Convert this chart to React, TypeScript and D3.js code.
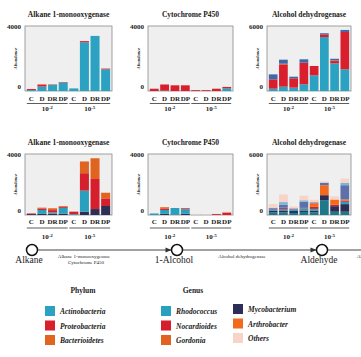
import React from "react";
import * as d3 from "d3";

const categories = ["C", "D", "DR", "DP", "C", "D", "DR", "DP"];
const groupLabels = ["-2", "-5"];

// Phylum series
const phylumKeys = ["Actinobacteria", "Proteobacteria", "Bacterioidetes", "Other phyla"];
const phylumColors = ["#2ba2c1", "#d91f2e", "#e2651f", "#3e68a7"];

const alkPhylumActino = [60, 280, 380, 520, 160, 3000, 3390, 1330];
const alkPhylumProteo = [60, 120, 20, 30, 0, 70, 0, 50];
const alkPhylumBact = [0, 0, 10, 0, 0, 0, 0, 0];
const alkPhylumOther = [0, 0, 0, 0, 0, 0, 0, 0];

const cypPhylumActino = [0, 20, 0, 0, 0, 0, 0, 170];
const cypPhylumProteo = [140, 380, 350, 350, 50, 50, 140, 80];
const cypPhylumBact = [0, 0, 0, 0, 0, 0, 0, 0];
const cypPhylumOther = [0, 0, 0, 0, 0, 0, 0, 0];

const adhPhylumActino = [215, 400, 310, 615, 1450, 4980, 2550, 2000];
const adhPhylumProteo = [860, 2060, 860, 2000, 860, 250, 215, 3450];
const adhPhylumBact = [0, 60, 0, 0, 0, 0, 60, 0];
const adhPhylumOther = [460, 370, 150, 310, 0, 100, 150, 185];

// Genus series
const genusKeys = ["Genus 7", "Mycobacterium", "Rhodococcus", "Nocardioides", "Gordonia", "Arthrobacter", "Genus 8", "Genus 9", "Others"];
const genusColors = ["#1e7a88", "#2c2e55", "#2aa0bf", "#d61f2d", "#e0631f", "#f26a1a", "#5d70a9", "#79b4d9", "#f8d3c8"];

const alkGenus: number[][] = [
  [0, 0, 0, 0, 0, 0, 0, 0],
  [60, 80, 90, 90, 0, 220, 390, 590],
  [0, 250, 80, 380, 50, 1380, 0, 0],
  [40, 100, 150, 80, 170, 1140, 1970, 500],
  [0, 50, 120, 40, 0, 770, 1360, 370],
  [0, 0, 0, 0, 0, 0, 0, 0],
  [0, 0, 0, 0, 0, 0, 0, 0],
  [0, 0, 0, 0, 0, 0, 0, 0],
  [0, 0, 0, 0, 0, 0, 0, 0],
];
const cypGenus: number[][] = [
  [0, 0, 0, 0, 0, 0, 0, 0],
  [0, 80, 30, 80, 0, 0, 0, 0],
  [100, 250, 430, 300, 0, 0, 0, 0],
  [0, 100, 0, 60, 0, 0, 60, 170],
  [0, 80, 0, 0, 0, 0, 0, 0],
  [0, 0, 0, 0, 0, 0, 0, 0],
  [0, 0, 0, 0, 0, 0, 0, 0],
  [0, 0, 0, 0, 0, 0, 0, 0],
  [0, 0, 0, 0, 30, 30, 30, 50],
];
const adhGenus: number[][] = [
  [250, 250, 200, 300, 250, 1460, 320, 320],
  [150, 200, 200, 150, 150, 490, 550, 750],
  [80, 150, 100, 200, 200, 0, 0, 230],
  [40, 120, 30, 50, 200, 0, 160, 120],
  [0, 0, 0, 0, 0, 0, 0, 0],
  [0, 0, 0, 0, 350, 970, 490, 110],
  [150, 300, 120, 600, 100, 260, 0, 1400],
  [50, 250, 0, 150, 0, 0, 0, 230],
  [350, 750, 180, 450, 250, 130, 320, 420],
];

const phylumLegend = ["Actinobacteria", "Proteobacteria", "Bacterioidetes"];
const genusLegend1 = ["Rhodococcus", "Nocardioides", "Gordonia"];
const genusLegend2 = ["Mycobacterium", "Arthrobacter", "Others"];

const FONT = "'Liberation Serif', 'Times New Roman', serif";

type PanelProps = {
  x0: number; x1: number; top: number; bottom: number;
  title: string; yMax: number; keys: string[]; colors: string[];
  series: number[][]; catDy: number; lineDy: number; groupDy: number;
};

function Panel({ x0, x1, top, bottom, title, yMax, keys, colors, series, catDy, lineDy, groupDy }: PanelProps) {
  const x = d3.scaleBand<number>().domain(d3.range(categories.length)).range([x0 + 1, x1 - 1]).paddingInner(0.15).paddingOuter(0.08);
  const y = d3.scaleLinear().domain([0, yMax]).range([bottom, top]);
  const rows = categories.map((_, i) => {
    const r: Record<string, number> = {};
    keys.forEach((k, j) => (r[k] = series[j][i]));
    return r;
  });
  const stacked = d3.stack<Record<string, number>>().keys(keys)(rows);
  const color = d3.scaleOrdinal<string, string>().domain(keys).range(colors);
  const bw = x.bandwidth();
  return (
    <g>
      <text x={(x0 + x1) / 2} y={top - 9} textAnchor="middle" fontFamily={FONT} fontWeight="bold" fontSize={7.5} fill="#222">{title}</text>
      <rect x={x0} y={top} width={x1 - x0} height={bottom - top} fill="#efefef" stroke="#8a8a8a" strokeWidth={0.8} />
      {stacked.map((layer) => (
        <g key={layer.key} fill={color(layer.key)}>
          {layer.map((d, i) => (d[1] - d[0] > 0 ?
            <rect key={i} x={x(i)} y={y(d[1])} width={bw} height={y(d[0]) - y(d[1])} /> : null))}
        </g>
      ))}
      <text x={x0 - 4} y={y(yMax) + 2.5} textAnchor="end" fontFamily={FONT} fontWeight="bold" fontSize={7} fill="#222">{yMax}</text>
      <text x={x0 - 4} y={y(0) - 2.5} textAnchor="end" fontFamily={FONT} fontWeight="bold" fontSize={7} fill="#222">0</text>
      <text transform={`translate(${x0 - 8},${(top + bottom) / 2}) rotate(-90)`} textAnchor="middle" fontFamily={FONT} fontWeight="bold" fontStyle="italic" fontSize={4.5} fill="#222">Abundance</text>
      {categories.map((c, i) => (
        <text key={i} x={(x(i) as number) + bw / 2} y={bottom + catDy} textAnchor="middle" fontFamily={FONT} fontWeight="bold" fontSize={7} fill="#222">{c}</text>
      ))}
      {groupLabels.map((g, gi) => {
        const a = x(gi * 4) as number;
        const b = (x(gi * 4 + 3) as number) + bw;
        return (
          <g key={gi}>
            <line x1={a} x2={b} y1={bottom + lineDy} y2={bottom + lineDy} stroke="#333" strokeWidth={0.8} />
            <text x={(a + b) / 2} y={bottom + groupDy} textAnchor="middle" fontFamily={FONT} fontWeight="bold" fontSize={7} fill="#222">
              10<tspan dy={-2.5} fontSize={5}>{g}</tspan>
            </text>
          </g>
        );
      })}
    </g>
  );
}

const panelsX = [[25, 112], [148, 233], [267, 351]];

export default function App() {
  const row1 = { top: 26, bottom: 91, catDy: 9.5, lineDy: 12.5, groupDy: 20 };
  const row2 = { top: 154, bottom: 215, catDy: 8.5, lineDy: 13, groupDy: 24 };
  const tlY = 250;
  const nodes = [32, 177, 322];
  const nodeLabels = ["Alkane", "1-Alcohol", "Aldehyde"];
  const r = 5.5;
  return (
    <svg width={361} height={357} style={{ position: "absolute", left: 0, top: 0 }}>
      <rect width={361} height={357} fill="#fff" />
      <Panel x0={panelsX[0][0]} x1={panelsX[0][1]} {...row1} title="Alkane 1-monooxygenase" yMax={4000} keys={phylumKeys} colors={phylumColors}
        series={[alkPhylumActino, alkPhylumProteo, alkPhylumBact, alkPhylumOther]} />
      <Panel x0={panelsX[1][0]} x1={panelsX[1][1]} {...row1} title="Cytochrome P450" yMax={4000} keys={phylumKeys} colors={phylumColors}
        series={[cypPhylumActino, cypPhylumProteo, cypPhylumBact, cypPhylumOther]} />
      <Panel x0={panelsX[2][0]} x1={panelsX[2][1]} {...row1} title="Alcohol dehydrogenase" yMax={6000} keys={phylumKeys} colors={phylumColors}
        series={[adhPhylumActino, adhPhylumProteo, adhPhylumBact, adhPhylumOther]} />
      <Panel x0={panelsX[0][0]} x1={panelsX[0][1]} {...row2} title="Alkane 1-monooxygenase" yMax={4000} keys={genusKeys} colors={genusColors} series={alkGenus} />
      <Panel x0={panelsX[1][0]} x1={panelsX[1][1]} {...row2} title="Cytochrome P450" yMax={4000} keys={genusKeys} colors={genusColors} series={cypGenus} />
      <Panel x0={panelsX[2][0]} x1={panelsX[2][1]} {...row2} title="Alcohol dehydrogenase" yMax={6000} keys={genusKeys} colors={genusColors} series={adhGenus} />

      {/* pathway timeline */}
      <line x1={nodes[0] + r} x2={361} y1={tlY} y2={tlY} stroke="#444" strokeWidth={1} />
      {nodes.slice(1).map((n, i) => (
        <path key={i} d={`M${n - r - 6},${tlY - 2.5} L${n - r},${tlY} L${n - r - 6},${tlY + 2.5} Z`} fill="#333" />
      ))}
      {nodes.map((n, i) => (
        <g key={i}>
          <circle cx={n} cy={tlY} r={r} fill="#fff" stroke="#111" strokeWidth={1.5} />
          <text x={n - 3} y={tlY + 13} textAnchor="middle" fontFamily={FONT} fontSize={9.5} fill="#222">{nodeLabels[i]}</text>
        </g>
      ))}
      <text x={84} y={tlY + 8} textAnchor="middle" fontFamily={FONT} fontSize={5} fill="#222">Alkane 1-monooxygenase</text>
      <text x={86} y={tlY + 14} textAnchor="middle" fontFamily={FONT} fontSize={5} fill="#222">Cytochrome P450</text>
      <text x={242} y={tlY + 8} textAnchor="middle" fontFamily={FONT} fontSize={5} fill="#222">Alcohol dehydrogenase</text>
      <text x={357} y={tlY + 8} textAnchor="start" fontFamily={FONT} fontSize={5} fill="#222">Aldehyde dehydrogenase</text>

      {/* legend */}
      <text x={83} y={293} textAnchor="middle" fontFamily={FONT} fontWeight="bold" fontSize={7.5} fill="#222">Phylum</text>
      <text x={193} y={293} textAnchor="middle" fontFamily={FONT} fontWeight="bold" fontSize={7.5} fill="#222">Genus</text>
      {phylumLegend.map((k, i) => (
        <g key={k} transform={`translate(45,${306 + i * 14.5})`}>
          <rect width={10} height={10} fill={phylumColors[phylumKeys.indexOf(k)]} />
          <text x={15} y={8} fontFamily={FONT} fontWeight="bold" fontStyle="italic" fontSize={7.5} fill="#222">{k}</text>
        </g>
      ))}
      {genusLegend1.map((k, i) => (
        <g key={k} transform={`translate(161,${306 + i * 14.5})`}>
          <rect width={10} height={10} fill={genusColors[genusKeys.indexOf(k)]} />
          <text x={15} y={8} fontFamily={FONT} fontWeight="bold" fontStyle="italic" fontSize={7.5} fill="#222">{k}</text>
        </g>
      ))}
      {genusLegend2.map((k, i) => (
        <g key={k} transform={`translate(233,${304 + i * 14.5})`}>
          <rect width={10} height={10} fill={genusColors[genusKeys.indexOf(k)]} />
          <text x={15} y={8} fontFamily={FONT} fontWeight="bold" fontStyle="italic" fontSize={7.5} fill="#222">{k}</text>
        </g>
      ))}
    </svg>
  );
}
